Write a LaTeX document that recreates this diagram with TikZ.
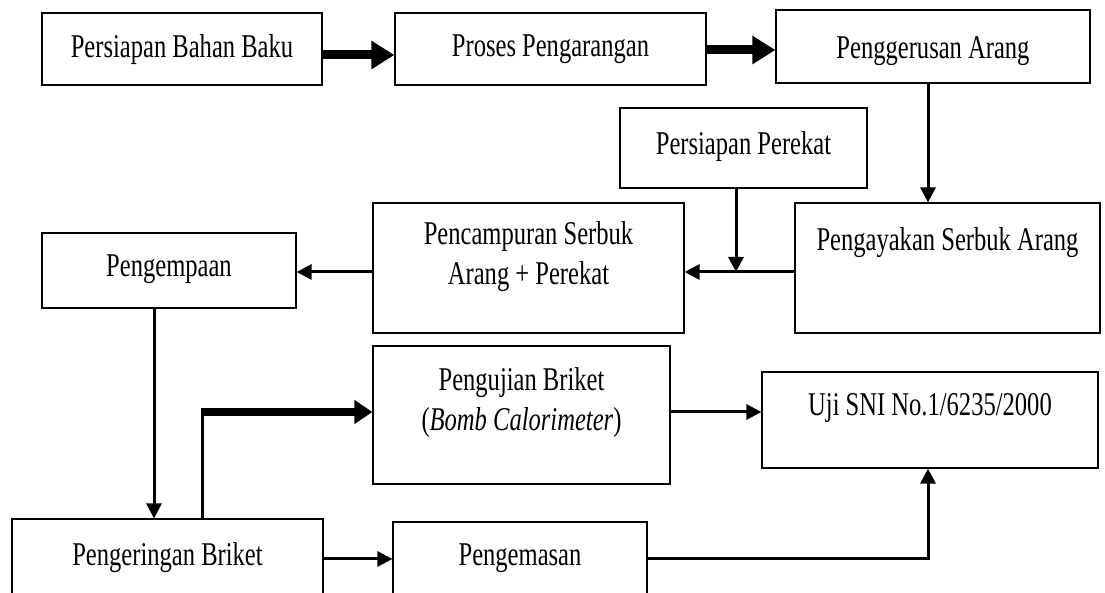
\documentclass[tikz,border=0pt]{standalone}
\usepackage{fontspec}
\setmainfont{Liberation Serif}[FakeStretch=0.74]
\usetikzlibrary{arrows.meta, positioning, calc}

\begin{document}
\begin{tikzpicture}[x=0.5pt, y=-0.5pt,
    font=\fontsize{16.6}{20}\selectfont,
    box/.style={draw, line width=0.6pt, inner sep=0pt},
    txt/.style={anchor=north, yshift=-11pt, inner sep=0pt, align=center},
    arr/.style={line width=1.5pt, -{Triangle[length=7.5pt, width=7.5pt]}},
    fat/.style={line width=4.5pt, -{Triangle[length=11.5pt, width=13.5pt]}},
    fatb/.style={line width=4pt, -{Triangle[length=9pt, width=11.5pt]}}]
  % canvas in px of the flow chart, y pointing down
  \useasboundingbox (0,0) rectangle (1105,593);
  \clip (0,0) rectangle (1105,593);

  % top row
  \node[box, minimum width=140pt, minimum height=36pt,
    label={[txt]north:Persiapan Bahan Baku}] (bahan) at (182,49) {};
  \node[box, minimum width=155.5pt, minimum height=36pt,
    label={[txt]north:Proses Pengarangan}] (arang) at (550.5,49) {};
  \node[box, minimum width=157pt, minimum height=36.5pt,
    label={[txt, yshift=-2.5pt]north:Penggerusan Arang}] (gerus) at (933,46.5) {};

  % middle
  \node[box, minimum width=123.5pt, minimum height=40pt,
    label={[txt, yshift=-1pt]north:Persiapan Perekat}] (perekat) at (743.5,148) {};
  \node[box, minimum width=152.5pt, minimum height=65pt,
    label={[txt, yshift=-1.5pt]north:Pengayakan Serbuk Arang}] (ayak) at (947.5,268) {};
  \node[box, minimum width=155.5pt, minimum height=65pt,
    label={[txt, yshift=1.5pt]north:Pencampuran Serbuk\\Arang + Perekat}] (campur) at (528.5,268) {};
  \node[box, minimum width=127pt, minimum height=37.5pt,
    label={[txt]north:Pengempaan}] (empa) at (169,270.5) {};

  % bottom part (boxes run off the page)
  \node[box, minimum width=148.5pt, minimum height=69pt,
    label={[txt]north:Pengujian Briket\\(\textit{Bomb Calorimeter})}] (uji) at (521.5,415) {};
  \node[box, minimum width=168pt, minimum height=48pt,
    label={[txt]north:Uji SNI No.1/6235/2000}] (sni) at (930,420) {};
  \node[box, minimum width=155.5pt, minimum height=60.5pt,
    label={[txt, yshift=-1pt]north:Pengeringan Briket}] (kering) at (167.5,579.5) {};
  \node[box, minimum width=127pt, minimum height=59pt,
    label={[txt]north:Pengemasan}] (kemas) at (520,581) {};

  % arrows
  \draw[fat] ([yshift=-3pt]bahan.east) -- ([yshift=-3pt]arang.west);
  \draw[fat] ([yshift=-0.5pt]arang.east) -- ([yshift=-0.5pt]arang.east -| gerus.west);
  \draw[arr] ([xshift=-2.5pt]gerus.south) -- ([xshift=-2.5pt]gerus.south |- ayak.north);
  \coordinate (jn) at (736,272);
  \draw[arr] (perekat.south -| jn) -- (jn);
  \draw[arr] (ayak.west |- jn) -- (campur.east |- jn);
  \draw[arr] (campur.west |- jn) -- (empa.east |- jn);
  \draw[arr] ([xshift=-7.5pt]empa.south) -- ([xshift=-7.5pt]empa.south |- kering.north);
  \coordinate (bend) at (202,412);
  \draw[line width=1.5pt] (kering.north -| bend) -- (bend);
  \draw[fatb] ([xshift=-0.75pt]bend) -- (bend -| uji.west);
  \draw[arr] (uji.east |- bend) -- (sni.west |- bend);
  \coordinate (lo) at (0,559);
  \draw[arr] (kering.east |- lo) -- (kemas.west |- lo);
  \draw[arr] (kemas.east |- lo) -| ([xshift=-1pt]sni.south);
\end{tikzpicture}
\end{document}
